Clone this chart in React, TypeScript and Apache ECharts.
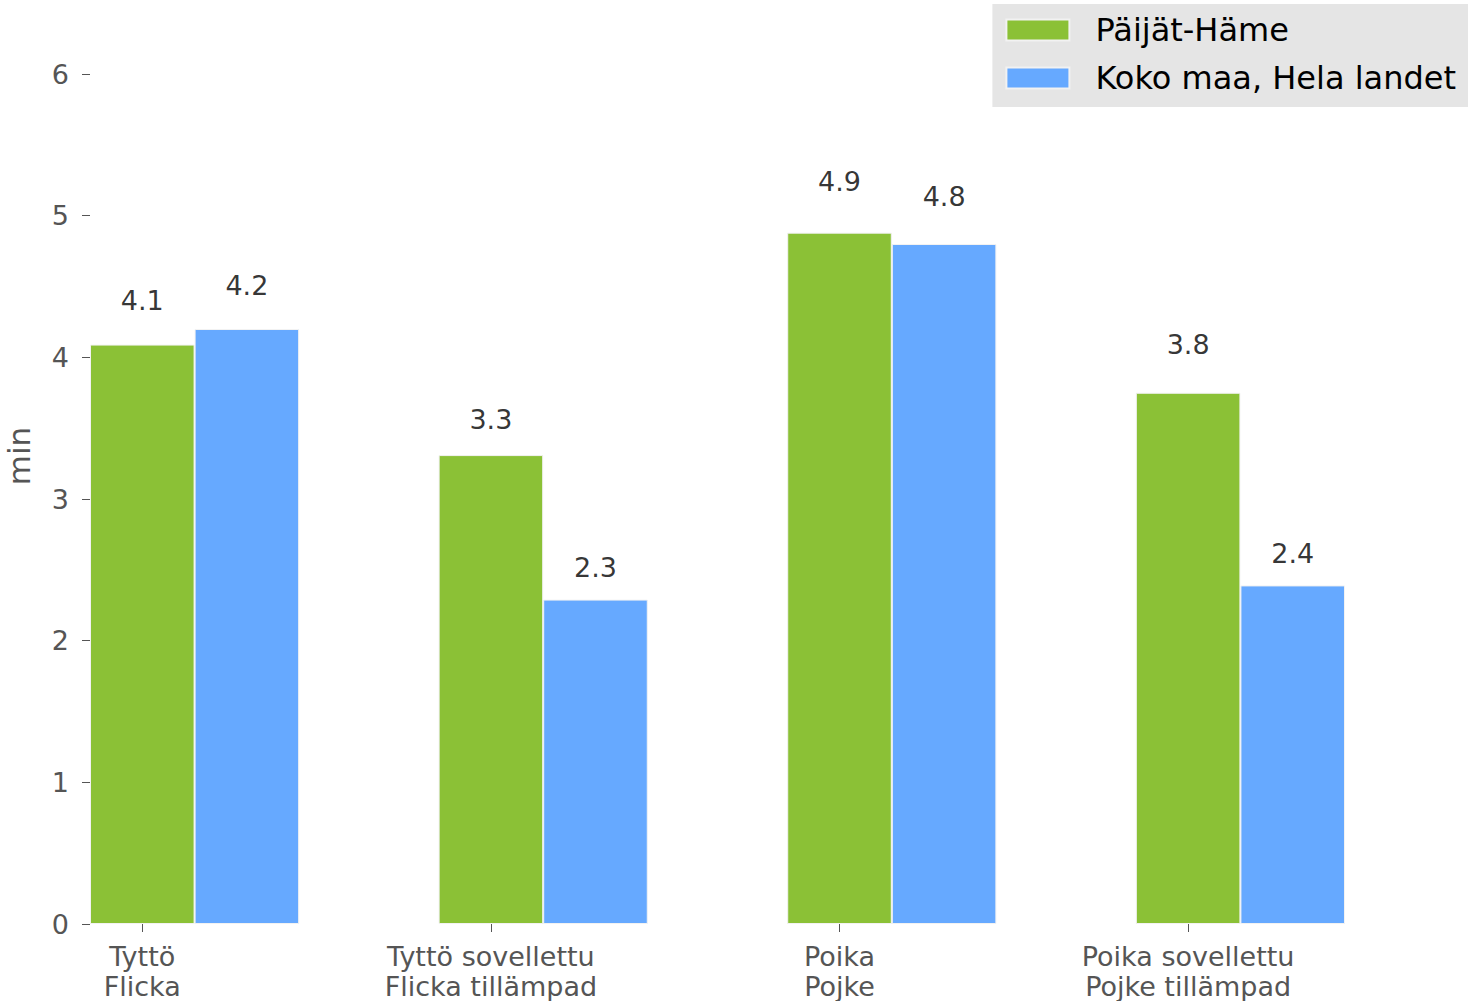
import React, { useEffect, useRef } from "react";
import * as echarts from "echarts";

const categoriesFi = ["Tyttö", "Tyttö sovellettu", "Poika", "Poika sovellettu"];
const categoriesSv = ["Flicka", "Flicka tillämpad", "Pojke", "Pojke tillämpad"];
const seriesNames = ["Päijät-Häme", "Koko maa, Hela landet"];
const paijatHame = [4.09, 3.31, 4.88, 3.75];
const kokoMaa = [4.2, 2.29, 4.8, 2.39];
const yTicks = [0, 1, 2, 3, 4, 5, 6];

const COLORS = ["#8bc136", "#66a9ff"];
const BAR_W = 0.3; // bar width in x-data units (matplotlib style)
const FONT = "DejaVu Sans";

export default function App() {
  const ref = useRef<HTMLDivElement>(null);
  useEffect(() => {
    if (!ref.current) return;
    const chart = echarts.init(ref.current, undefined, { renderer: "svg" });
    const groups = [paijatHame, kokoMaa];
    const xIdx = categoriesFi.map((_, i) => i);
    const gridLeft = 90;
    const gridRight = 136;
    const plotW = 1481 - gridLeft - gridRight;
    const xMin = -BAR_W / 2;
    const xMax = categoriesFi.length - 1 + BAR_W * 1.5;
    const barPx = (BAR_W * plotW) / (xMax - xMin);

    const barSeries = groups.map((vals, s) => ({
      type: "bar",
      name: seriesNames[s],
      data: vals.map((v, i) => [i + s * BAR_W, v]),
      barWidth: barPx,
      barGap: "-100%",
      itemStyle: { color: COLORS[s], borderColor: "#f2f2f2", borderWidth: 1 },
      z: 2,
    }));
    const labelSeries = groups.map((vals, s) => ({
      type: "scatter",
      data: vals.map((v, i) => {
        const r = Math.round(v * 10) / 10;
        return [i + s * BAR_W, r * 1.05, r];
      }),
      symbol: "circle",
      symbolSize: 1,
      itemStyle: { color: "rgba(0,0,0,0)" },
      silent: true,
      z: 3,
      label: {
        show: true,
        position: "top",
        distance: 0,
        color: "#000000",
        fontSize: 27,
        fontFamily: FONT,
        formatter: (p: any) => (p.value[2] as number).toFixed(1),
      },
    }));

    chart.setOption({
      animation: false,
      backgroundColor: "#ffffff",
      textStyle: { fontFamily: FONT },
      grid: {
        left: gridLeft,
        right: gridRight,
        top: 74,
        bottom: 77,
        containLabel: false,
        outerBoundsMode: "none",
      },
      legend: {
        data: seriesNames,
        orient: "vertical",
        right: 13,
        top: 4,
        backgroundColor: "#e5e5e5",
        padding: [10, 12, 13, 13],
        itemWidth: 63,
        itemHeight: 21,
        itemGap: 16,
        icon: "rect",
        borderRadius: 0,
        textStyle: {
          fontSize: 32,
          lineHeight: 30,
          color: "#000",
          fontFamily: FONT,
          padding: [0, 0, 0, 21],
        },
      },
      xAxis: {
        type: "value",
        min: xMin,
        max: xMax,
        splitLine: { show: false },
        axisLine: { show: false, onZero: false },
        axisTick: {
          show: true,
          customValues: xIdx,
          length: 8,
          lineStyle: { color: "#555555", width: 1 },
        },
        axisLabel: {
          customValues: xIdx,
          margin: 17,
          fontSize: 27,
          lineHeight: 30,
          color: "#555555",
          fontFamily: FONT,
          formatter: (v: number) => {
            const i = Math.round(v);
            return categoriesFi[i] + "\n" + categoriesSv[i];
          },
        },
      },
      yAxis: {
        type: "value",
        min: yTicks[0],
        max: yTicks[yTicks.length - 1],
        interval: 1,
        name: "min",
        nameLocation: "middle",
        nameGap: 56,
        nameRotate: 90,
        nameTextStyle: {
          fontSize: 31,
          color: "#555555",
          fontFamily: FONT,
          padding: [0, 0, 0, 86],
        },
        splitLine: { show: false },
        axisLine: { show: false, onZero: false },
        axisTick: { show: true, length: 8, lineStyle: { color: "#555555", width: 1 } },
        axisLabel: { margin: 21, fontSize: 27, color: "#555555", fontFamily: FONT },
      },
      series: [...barSeries, ...labelSeries],
    });
    return () => chart.dispose();
  }, []);
  return (
    <div
      ref={ref}
      style={{ position: "absolute", left: 0, top: 0, width: 1481, height: 1001 }}
    />
  );
}
